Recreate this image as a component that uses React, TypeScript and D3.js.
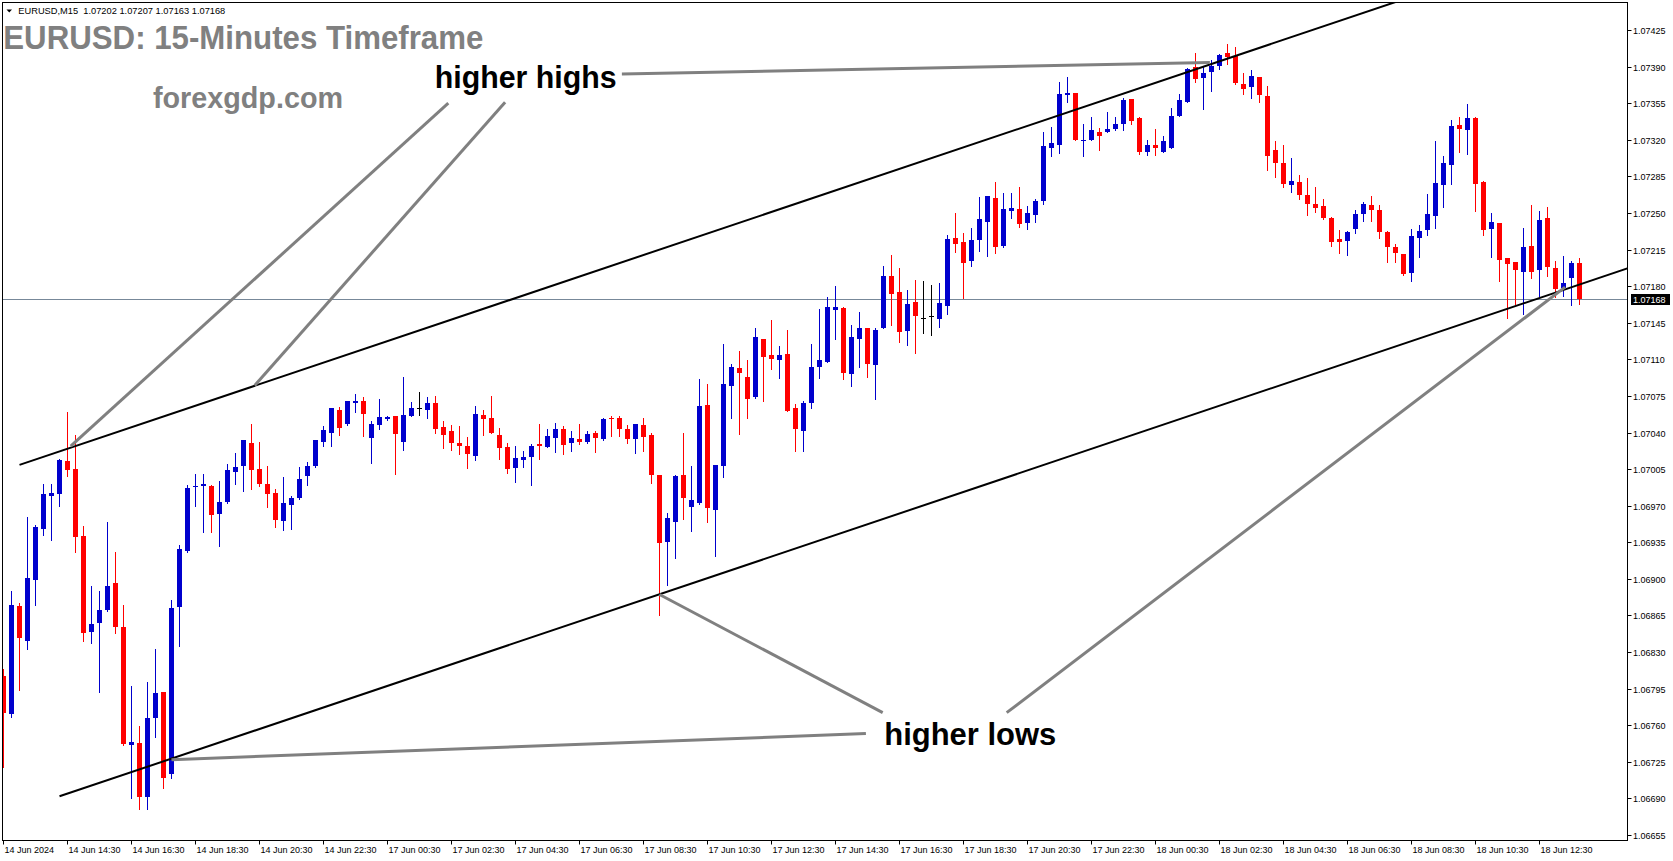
import * as d3 from "d3";

// EURUSD M15, 14 Jun 12:30 -> 18 Jun 13:45 (198 bars)
const opens = [
  1.06807, 1.06771, 1.06874, 1.06841, 1.06899, 1.06948, 1.06979, 1.06981, 1.07013, 1.07005,
  1.06941, 1.06849, 1.06858, 1.0687, 1.06896, 1.06854, 1.06741, 1.06743, 1.06691, 1.06767,
  1.06792, 1.06713, 1.06873, 1.06927, 1.06988, 1.06989, 1.06989, 1.06962, 1.06974, 1.07002,
  1.07008, 1.0703, 1.07005, 1.06991, 1.06982, 1.06955, 1.06971, 1.06977, 1.06998, 1.07008,
  1.07031, 1.0704, 1.07062, 1.07048, 1.07068, 1.0707, 1.07035, 1.07047, 1.07053, 1.07056,
  1.07031, 1.07056, 1.07063, 1.07062, 1.07068, 1.07045, 1.07041, 1.0703, 1.07027, 1.07018,
  1.07057, 1.07054, 1.07038, 1.07026, 1.07006, 1.07014, 1.07017, 1.07029, 1.07026, 1.07035,
  1.07043, 1.0703, 1.07034, 1.07031, 1.0704, 1.07034, 1.07054, 1.07054, 1.07043, 1.07034,
  1.07047, 1.07038, 1.06999, 1.06935, 1.06954, 1.06999, 1.06969, 1.06973, 1.07066, 1.06966,
  1.07008, 1.07084, 1.07102, 1.07093, 1.07074, 1.07129, 1.07114, 1.07109, 1.07115, 1.07063,
  1.07041, 1.07068, 1.07103, 1.07107, 1.07157, 1.07159, 1.07096, 1.07129, 1.0714, 1.07105,
  1.0714, 1.0719, 1.07174, 1.07137, 1.07165, 1.0715, 1.07151, 1.07149, 1.07161, 1.07226,
  1.07222, 1.07204, 1.07224, 1.07241, 1.07264, 1.07218, 1.07252, 1.07254, 1.0724, 1.07248,
  1.07261, 1.07312, 1.07315, 1.07363, 1.07365, 1.07319, 1.0732, 1.07327, 1.07327, 1.0733,
  1.07335, 1.07359, 1.07341, 1.07308, 1.07315, 1.07308, 1.07312, 1.07343, 1.07356, 1.0739,
  1.07379, 1.07385, 1.07391, 1.07403, 1.074, 1.07373, 1.0737, 1.0738, 1.07362, 1.0731,
  1.07298, 1.07277, 1.0728, 1.07267, 1.07259, 1.07257, 1.07245, 1.07225, 1.07223, 1.07235,
  1.07249, 1.07258, 1.07253, 1.07232, 1.07217, 1.07211, 1.07193, 1.07226, 1.07234, 1.07247,
  1.07277, 1.07296, 1.07334, 1.07329, 1.07341, 1.0728, 1.07235, 1.0724, 1.07207, 1.07203,
  1.07194, 1.07218, 1.07195, 1.07245, 1.07197, 1.07178, 1.07188, 1.07202,
];
const highs = [
  1.06814, 1.06888, 1.06877, 1.06959, 1.06952, 1.06991, 1.06991, 1.07015, 1.0706, 1.07038,
  1.06951, 1.06893, 1.06888, 1.06954, 1.06926, 1.06875, 1.06798, 1.06759, 1.06801, 1.06833,
  1.06792, 1.0688, 1.06932, 1.0699, 1.07, 1.07, 1.0699, 1.06994, 1.0701, 1.0702,
  1.07033, 1.07048, 1.07031, 1.07008, 1.06986, 1.06997, 1.06979, 1.07007, 1.07012, 1.07033,
  1.07046, 1.07063, 1.07064, 1.0707, 1.07077, 1.07074, 1.07051, 1.07072, 1.07056, 1.07056,
  1.07093, 1.07069, 1.07079, 1.07074, 1.07075, 1.07051, 1.07047, 1.07046, 1.07036, 1.07065,
  1.07062, 1.07075, 1.07044, 1.0703, 1.07027, 1.07022, 1.07029, 1.07048, 1.07043, 1.07049,
  1.07046, 1.07041, 1.07048, 1.07041, 1.07041, 1.07054, 1.07056, 1.07056, 1.07047, 1.07048,
  1.07054, 1.0704, 1.06999, 1.06963, 1.06999, 1.0704, 1.07008, 1.07091, 1.07086, 1.07009,
  1.07125, 1.07106, 1.07118, 1.07109, 1.0714, 1.07129, 1.07148, 1.07123, 1.07138, 1.07067,
  1.0707, 1.07125, 1.07158, 1.0717, 1.0718, 1.0716, 1.07143, 1.07155, 1.0714, 1.0714,
  1.07199, 1.0721, 1.07197, 1.07176, 1.07186, 1.07185, 1.07181, 1.07183, 1.07229, 1.0725,
  1.07231, 1.07236, 1.07265, 1.07266, 1.0728, 1.07269, 1.07269, 1.07275, 1.07257, 1.07263,
  1.07327, 1.07332, 1.07375, 1.0738, 1.07365, 1.07335, 1.07342, 1.07331, 1.07347, 1.07342,
  1.0736, 1.07359, 1.07342, 1.0732, 1.0733, 1.07324, 1.0735, 1.07364, 1.07389, 1.07403,
  1.0739, 1.07396, 1.07402, 1.07412, 1.07409, 1.07384, 1.07387, 1.0738, 1.07371, 1.07319,
  1.07315, 1.07303, 1.07286, 1.07283, 1.07275, 1.07263, 1.07246, 1.07234, 1.07233, 1.07253,
  1.0726, 1.07266, 1.07258, 1.07233, 1.0722, 1.07211, 1.07235, 1.07238, 1.07268, 1.07319,
  1.07304, 1.07339, 1.07342, 1.07354, 1.07342, 1.07281, 1.0725, 1.0724, 1.07207, 1.07203,
  1.07236, 1.07258, 1.07252, 1.07256, 1.07204, 1.07209, 1.07204, 1.07207,
];
const lows = [
  1.0672, 1.06768, 1.06794, 1.06833, 1.06875, 1.06942, 1.06937, 1.0697, 1.06998, 1.06926,
  1.06841, 1.06839, 1.06792, 1.06869, 1.06848, 1.06741, 1.0669, 1.0668, 1.0668, 1.06749,
  1.067, 1.0671, 1.06836, 1.06926, 1.0697, 1.06945, 1.06945, 1.06931, 1.06973, 1.06991,
  1.06984, 1.06986, 1.06989, 1.06969, 1.0695, 1.06947, 1.06948, 1.06976, 1.0699, 1.07007,
  1.07027, 1.07027, 1.07038, 1.07047, 1.0706, 1.07037, 1.07011, 1.07043, 1.07052, 1.07,
  1.07023, 1.07056, 1.07057, 1.07054, 1.0704, 1.07025, 1.07023, 1.07019, 1.07006, 1.07014,
  1.07038, 1.0704, 1.07015, 1.07001, 1.06993, 1.07007, 1.0699, 1.07015, 1.07026, 1.07021,
  1.07019, 1.07022, 1.07029, 1.0703, 1.07021, 1.07033, 1.07037, 1.07037, 1.0703, 1.0702,
  1.07022, 1.06992, 1.06865, 1.06894, 1.0692, 1.06957, 1.06946, 1.06972, 1.06954, 1.06922,
  1.06997, 1.07054, 1.07039, 1.07054, 1.07073, 1.0707, 1.07101, 1.07092, 1.07061, 1.07022,
  1.07022, 1.07063, 1.07092, 1.07107, 1.07129, 1.07091, 1.07084, 1.07103, 1.07093, 1.07072,
  1.0714, 1.07143, 1.07127, 1.07124, 1.07116, 1.07135, 1.07133, 1.07141, 1.07153, 1.07213,
  1.07169, 1.07199, 1.07214, 1.07209, 1.07212, 1.07217, 1.07245, 1.07237, 1.07235, 1.07241,
  1.07259, 1.07304, 1.07307, 1.07356, 1.0732, 1.07304, 1.0732, 1.0731, 1.07327, 1.07329,
  1.07329, 1.07335, 1.07306, 1.07305, 1.07305, 1.07308, 1.07312, 1.07343, 1.07356, 1.07375,
  1.07349, 1.07367, 1.07388, 1.07392, 1.07373, 1.07364, 1.0736, 1.07356, 1.07291, 1.07284,
  1.07275, 1.0727, 1.07263, 1.07248, 1.07251, 1.07244, 1.07218, 1.07212, 1.0721, 1.07231,
  1.07242, 1.07242, 1.07226, 1.07203, 1.07203, 1.07191, 1.07185, 1.07208, 1.07229, 1.07236,
  1.07256, 1.07278, 1.07308, 1.07306, 1.07252, 1.07229, 1.07208, 1.07185, 1.0715, 1.07163,
  1.07153, 1.07188, 1.07171, 1.0719, 1.0717, 1.07171, 1.07162, 1.07163,
];
const closes = [
  1.06772, 1.06875, 1.06843, 1.06901, 1.0695, 1.06981, 1.06982, 1.07014, 1.07004, 1.0694,
  1.06848, 1.06857, 1.0687, 1.06893, 1.06854, 1.06742, 1.06744, 1.06691, 1.06767, 1.06791,
  1.0671, 1.06872, 1.06929, 1.06987, 1.06989, 1.06991, 1.06961, 1.06974, 1.07004, 1.07007,
  1.07033, 1.07004, 1.06991, 1.06981, 1.06956, 1.06973, 1.06977, 1.06996, 1.07008, 1.07033,
  1.07042, 1.07063, 1.07044, 1.0707, 1.0707, 1.07058, 1.07048, 1.07055, 1.07055, 1.07039,
  1.07057, 1.07063, 1.07063, 1.07068, 1.07043, 1.07038, 1.0703, 1.07027, 1.07019, 1.07058,
  1.07053, 1.0704, 1.07025, 1.07005, 1.07016, 1.07017, 1.07027, 1.07027, 1.07037, 1.07043,
  1.07028, 1.07035, 1.07031, 1.07039, 1.07035, 1.07053, 1.07053, 1.07043, 1.07034, 1.07048,
  1.07036, 1.06999, 1.06934, 1.06958, 1.06998, 1.06977, 1.06975, 1.07065, 1.06968, 1.07009,
  1.07086, 1.07103, 1.07097, 1.07072, 1.07131, 1.07112, 1.0711, 1.07114, 1.07061, 1.07043,
  1.07068, 1.07103, 1.07109, 1.0716, 1.0716, 1.07097, 1.07131, 1.0714, 1.07106, 1.07138,
  1.0719, 1.07172, 1.07136, 1.07163, 1.07151, 1.0715, 1.07151, 1.07164, 1.07225, 1.0722,
  1.07202, 1.07224, 1.07244, 1.07266, 1.07217, 1.07254, 1.07255, 1.07239, 1.0725, 1.07261,
  1.07314, 1.07317, 1.07364, 1.07365, 1.0732, 1.0732, 1.07329, 1.07324, 1.0733, 1.07335,
  1.07358, 1.07338, 1.07308, 1.07315, 1.07312, 1.07319, 1.07343, 1.07358, 1.07388, 1.07378,
  1.07384, 1.07391, 1.07401, 1.07399, 1.07374, 1.07369, 1.07381, 1.07363, 1.07304, 1.07298,
  1.07278, 1.07281, 1.07267, 1.07259, 1.07255, 1.07245, 1.07222, 1.07222, 1.07232, 1.07249,
  1.07259, 1.07253, 1.07232, 1.07217, 1.07212, 1.07192, 1.07228, 1.07233, 1.07249, 1.07279,
  1.07298, 1.07333, 1.0733, 1.07341, 1.07278, 1.07234, 1.07241, 1.07205, 1.07201, 1.07195,
  1.07217, 1.07194, 1.07243, 1.07198, 1.07177, 1.07183, 1.07202, 1.07168,
];

const priceTicks = [
  1.06655, 1.0669, 1.06725, 1.0676, 1.06795, 1.0683, 1.06865, 1.069, 1.06935, 1.0697,
  1.07005, 1.0704, 1.07075, 1.0711, 1.07145, 1.0718, 1.07215, 1.0725, 1.07285, 1.0732,
  1.07355, 1.0739, 1.07425,
];

const timeTickBars = [0, 8, 16, 24, 32, 40, 48, 56, 64, 72, 80, 88, 96, 104, 112, 120, 128, 136, 144, 152, 160, 168, 176, 184, 192];
const timeTickLabels = [
  "14 Jun 2024", "14 Jun 14:30", "14 Jun 16:30", "14 Jun 18:30", "14 Jun 20:30", "14 Jun 22:30",
  "17 Jun 00:30", "17 Jun 02:30", "17 Jun 04:30", "17 Jun 06:30", "17 Jun 08:30", "17 Jun 10:30",
  "17 Jun 12:30", "17 Jun 14:30", "17 Jun 16:30", "17 Jun 18:30", "17 Jun 20:30", "17 Jun 22:30",
  "18 Jun 00:30", "18 Jun 02:30", "18 Jun 04:30", "18 Jun 06:30", "18 Jun 08:30", "18 Jun 10:30",
  "18 Jun 12:30",
];

const bidPrice = 1.07168;

// trend channel: two anchors (bar index, price), drawn as rays to the right
const channelLines = [
  [[2, 1.07009], [164, 1.07426]],
  [[7, 1.06692], [199.5, 1.07188]],
];

// grey pointer lines from the labels
const pointerLines = [
  [[55.6, 1.07355], [8.4, 1.07027]],
  [[62.7, 1.07356], [31.4, 1.07085]],
  [[77.3, 1.07383], [150.8, 1.07394]],
  [[107.8, 1.06752], [21.0, 1.06727]],
  [[109.9, 1.06772], [82.0, 1.06885]],
  [[125.4, 1.06772], [195.2, 1.07179]],
];

const notes = [
  { text: "higher highs", bar: 53.9, price: 1.0737, len: 182 },
  { text: "higher lows", bar: 110.1, price: 1.06741, len: 172 },
];

const W = 1673;
const H = 861;
const left = 2.5, top = 2.5, right = 1627.5, bottom = 840.5;
const BLUE = "#0000CD";
const RED = "#FF0000";
const FONT = "'Liberation Sans', Arial, sans-serif";

export default function App() {
  const x = d3.scaleLinear().domain([0, 197]).range([3.5, 1579.5]);
  const y = d3.scaleLinear().domain([1.06655, 1.07425]).range([835, 30]);

  const ray = (a: number[], b: number[]) => {
    const x1 = x(a[0]), y1 = y(a[1]), x2 = x(b[0]), y2 = y(b[1]);
    const s = (y2 - y1) / (x2 - x1);
    const xe = right;
    return { x1, y1, x2: xe, y2: y1 + s * (xe - x1) };
  };

  const yBid = Math.round(y(bidPrice)) + 0.5;

  return (
    <>
      <style>{`body{margin:0;background:#fff}`}</style>
      <svg width={W} height={H} style={{ display: "block", fontFamily: FONT }}>
        <defs>
          <clipPath id="plot">
            <rect x={3} y={3} width={right - 3.5} height={bottom - 3.5} />
          </clipPath>
        </defs>
        <rect x={0} y={0} width={W} height={H} fill="#fff" />

        <g clipPath="url(#plot)">
          <line x1={left} x2={right} y1={yBid} y2={yBid} stroke="#778899" strokeWidth={1} />
          {opens.map((o, i) => {
            const c = closes[i];
            const cx = x(i);
            const col = c > o ? BLUE : c < o ? RED : "#000";
            const yh = Math.round(y(highs[i]));
            const yl = Math.round(y(lows[i]));
            const t = Math.round(y(Math.max(o, c)));
            const b = Math.round(y(Math.min(o, c)));
            return (
              <g key={i}>
                <line x1={cx} x2={cx} y1={yh} y2={yl + 1} stroke={col} strokeWidth={1} />
                {c === o ? (
                  <line x1={cx - 2.5} x2={cx + 2.5} y1={t + 0.5} y2={t + 0.5} stroke="#000" strokeWidth={1} />
                ) : (
                  <rect x={cx - 2.5} y={t} width={5} height={Math.max(1, b - t)} fill={col} />
                )}
              </g>
            );
          })}

          {channelLines.map((l, i) => {
            const r = ray(l[0], l[1]);
            return <line key={i} {...r} stroke="#000" strokeWidth={2} />;
          })}
          {pointerLines.map((l, i) => (
            <line key={i} x1={x(l[0][0])} y1={y(l[0][1])} x2={x(l[1][0])} y2={y(l[1][1])} stroke="#808080" strokeWidth={3} />
          ))}
        </g>

        {/* frame */}
        <rect x={left} y={top} width={right - left} height={bottom - top} fill="none" stroke="#000" strokeWidth={1} />

        {/* price axis */}
        {priceTicks.map((p) => {
          const py = Math.round(y(p)) + 0.5;
          return (
            <g key={p}>
              <line x1={right} x2={right + 4} y1={py} y2={py} stroke="#000" />
              <text x={1633} y={py + 3.3} fontSize={9} fill="#000">{p.toFixed(5)}</text>
            </g>
          );
        })}
        <rect x={1631} y={yBid - 5.5} width={39} height={11} fill="#000" />
        <text x={1633} y={yBid + 3.3} fontSize={9} fill="#fff">{bidPrice.toFixed(5)}</text>

        {/* time axis */}
        {timeTickBars.map((k, i) => (
          <g key={k}>
            <line x1={x(k)} x2={x(k)} y1={bottom} y2={bottom + 4} stroke="#000" />
            <text x={x(k) + 1} y={852.5} fontSize={9} fill="#000">{timeTickLabels[i]}</text>
          </g>
        ))}

        {/* header */}
        <path d="M6.5,9.5 L12,9.5 L9.25,12.5 Z" fill="#000" />
        <text x={18.3} y={14} fontSize={9} fill="#000" textLength={207} lengthAdjust="spacingAndGlyphs" style={{ whiteSpace: "pre" }}>
          {"EURUSD,M15  1.07202 1.07207 1.07163 1.07168"}
        </text>
        <text x={3.3} y={49.3} fontSize={33} fontWeight="bold" fill="#808080" textLength={480} lengthAdjust="spacingAndGlyphs">
          EURUSD: 15-Minutes Timeframe
        </text>
        <text x={153} y={108.3} fontSize={30} fontWeight="bold" fill="#808080" textLength={190} lengthAdjust="spacingAndGlyphs">
          forexgdp.com
        </text>

        {notes.map((n) => (
          <text key={n.text} x={x(n.bar)} y={y(n.price)} fontSize={31} fontWeight="bold" fill="#000" textLength={n.len} lengthAdjust="spacingAndGlyphs">
            {n.text}
          </text>
        ))}
      </svg>
    </>
  );
}
